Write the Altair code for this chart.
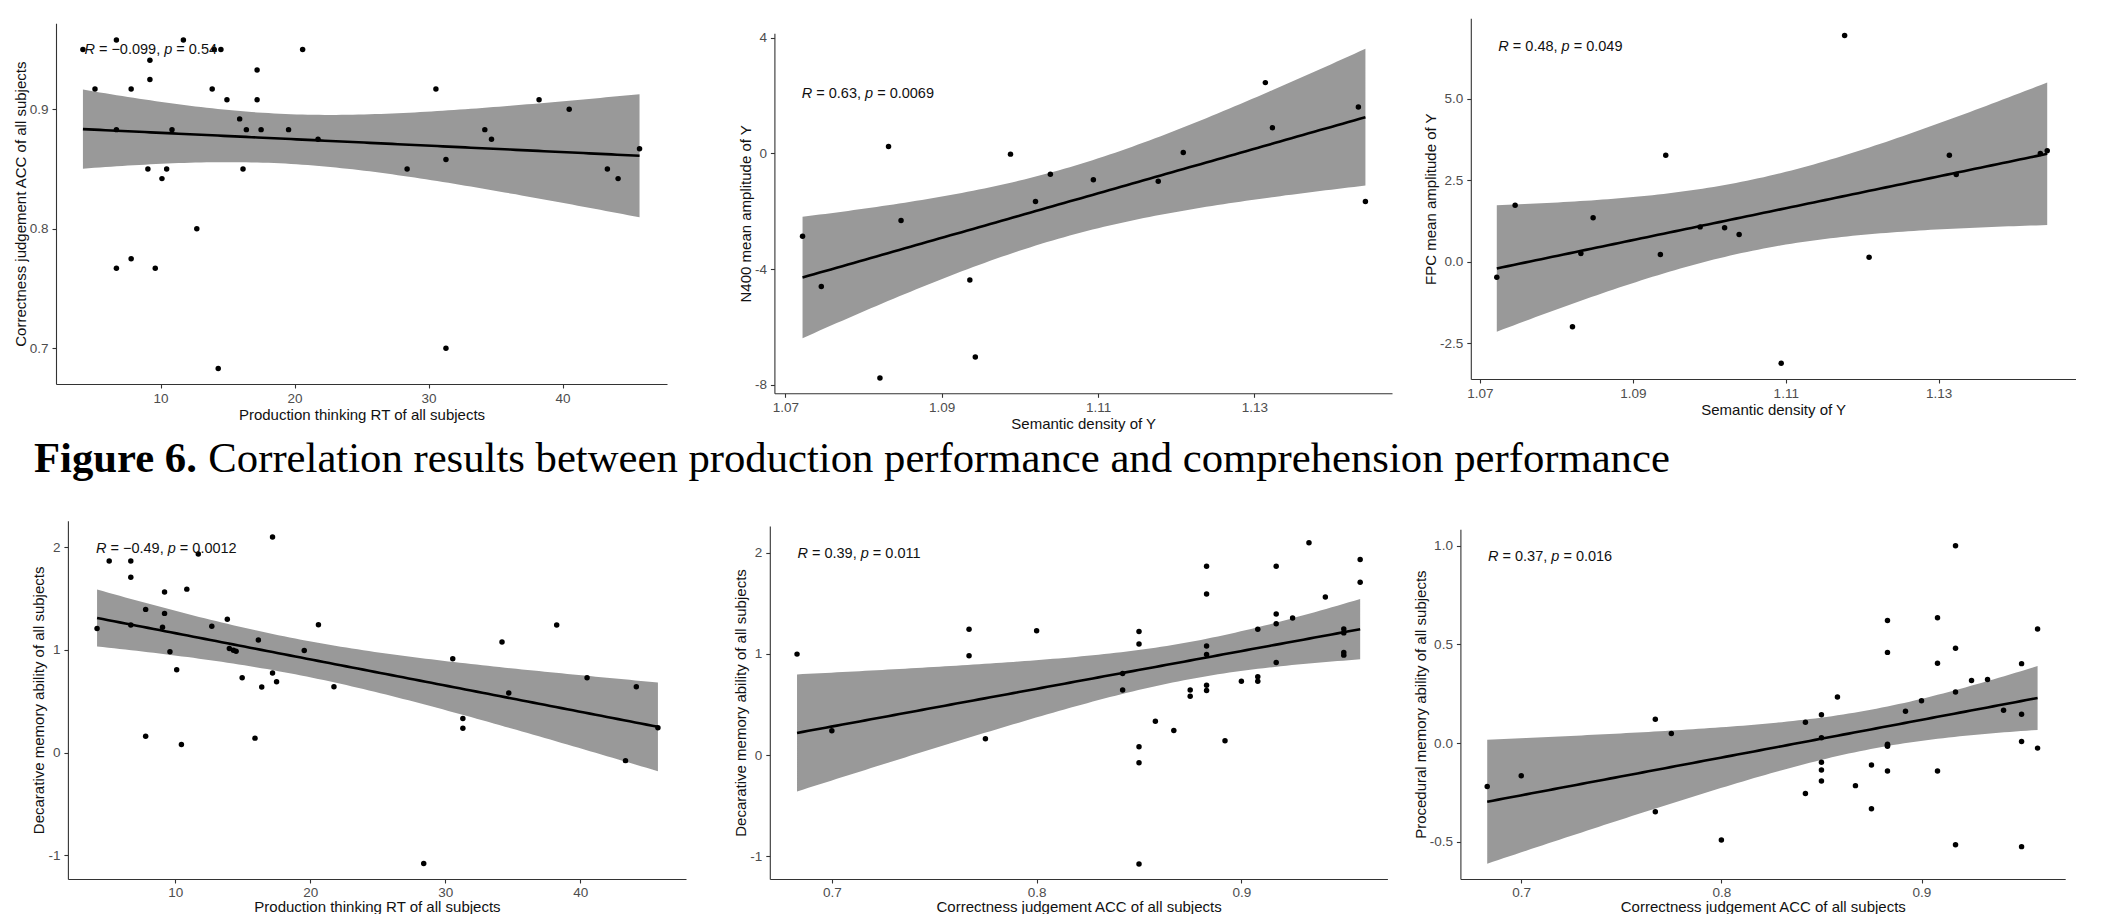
import altair as alt
import numpy as np
import pandas as pd

# ---------------- data ----------------
# 41 subjects: production thinking RT, correctness-judgement ACC,
# declarative memory ability, procedural memory ability
RT = [4.2, 6.7, 11.7, 14.0, 14.5, 20.6, 9.2, 17.2, 9.2, 5.1, 7.8, 13.85, 30.55, 14.95,
      17.2, 38.25, 40.5, 15.9, 6.7, 10.85, 16.4, 17.5, 19.55, 34.2, 21.75, 34.7, 45.75,
      31.3, 9.05, 10.45, 16.15, 28.4, 43.35, 10.1, 44.15, 12.7, 7.8, 6.7, 9.6, 31.3, 14.3]
ACC = [0.950, 0.958, 0.958, 0.950, 0.950, 0.950, 0.941, 0.933, 0.925, 0.917, 0.917, 0.917,
       0.917, 0.908, 0.908, 0.908, 0.900, 0.892, 0.883, 0.883, 0.883, 0.883, 0.883, 0.883,
       0.875, 0.875, 0.867, 0.858, 0.850, 0.850, 0.850, 0.850, 0.850, 0.842, 0.842, 0.800,
       0.775, 0.767, 0.767, 0.700, 0.683]
DECL = [1.208, 1.708, 1.934, 1.014, 0.988, 1.246, 1.563, 2.099, 1.356, 1.866, 1.395, 1.298,
        0.914, 0.730, 0.775, 1.243, 0.730, 0.142, 1.866, 1.592, 0.639, 0.691, 0.995, 1.078,
        0.643, 0.581, 0.242, 0.333, 1.221, 0.081, 1.098, -1.078, -0.077, 0.807, 0.643, 1.230,
        0.161, 1.243, 0.982, 0.239, 0.998]
PROC = [0.403, 0.578, -0.025, 0.147, 0.008, -0.524, 0.167, 0.323, 0.318, 1.000, 0.481, 0.259,
        -0.514, 0.635, 0.405, -0.141, 0.215, 0.162, 0.621, 0.460, -0.005, -0.015, -0.141, -0.010,
        -0.110, -0.332, -0.215, 0.234, 0.144, 0.028, -0.097, -0.136, -0.192, 0.106, -0.255, -0.490,
        0.049, 0.121, -0.347, -0.165, -0.219]

# 17 items: semantic density of Y, N400 and FPC mean amplitudes
SD = [1.0722, 1.0746, 1.0821, 1.0832, 1.0848, 1.0936, 1.0943, 1.0988, 1.1020, 1.1039,
      1.1094, 1.1177, 1.1209, 1.1314, 1.1323, 1.1433, 1.1442]
N400 = [-2.864, -4.596, -7.76, 0.242, -2.32, -4.376, -7.03, -0.023, -1.663, -0.716,
        -0.912, -0.958, 0.035, 2.448, 0.889, 1.605, -1.663]
FPC = [-0.471, 1.740, -1.995, 0.256, 1.351, 0.225, 3.275, 1.074, 1.044, 0.839,
       -3.111, 6.948, 0.143, 3.275, 2.681, 3.326, 3.408]

# correlation labels (R, p) and their anchor (data coords, left / middle)
R_LABELS = ["\u22120.099", "0.63", "0.48", "\u22120.49", "0.39", "0.37"]
P_LABELS = ["0.54", "0.0069", "0.049", "0.0012", "0.011", "0.016"]
LABEL_X = [4.31, 1.0721, 1.0724, 4.12, 0.6832, 0.6834]
LABEL_Y = [0.9496, 2.05, 6.6, 1.98, 1.99, 0.944]

X_TITLES = ["Production thinking RT of all subjects", "Semantic density of Y", "Semantic density of Y",
            "Production thinking RT of all subjects", "Correctness judgement ACC of all subjects",
            "Correctness judgement ACC of all subjects"]
Y_TITLES = ["Correctness judgement ACC of all subjects", "N400 mean amplitude of Y",
            "FPC mean amplitude of Y", "Decarative memory ability of all subjects",
            "Decarative memory ability of all subjects", "Procedural  memory ability of all subjects"]
X_TICKS = [[10, 20, 30, 40], [1.07, 1.09, 1.11, 1.13], [1.07, 1.09, 1.11, 1.13],
           [10, 20, 30, 40], [0.7, 0.8, 0.9], [0.7, 0.8, 0.9]]
Y_TICKS = [[0.7, 0.8, 0.9], [-8, -4, 0, 4], [-2.5, 0.0, 2.5, 5.0],
           [-1, 0, 1, 2], [-1, 0, 1, 2], [-0.5, 0.0, 0.5, 1.0]]
X_FMT = ["d", ".2f", ".2f", "d", ".1f", ".1f"]
Y_FMT = [".1f", "d", ".1f", "d", "d", ".1f"]
X_DOM = [[2.19, 47.80], [1.0686, 1.1476], [1.0688, 1.1479], [2.04, 47.83], [0.6697, 0.9713], [0.6696, 0.9718]]
Y_DOM = [[0.6701, 0.972], [-8.287, 4.152], [-3.596, 7.477], [-1.229, 2.258], [-1.226, 2.265], [-0.688, 1.0835]]

CAPTION_BOLD = "Figure 6."
CAPTION_TEXT = "Correlation results between production performance and comprehension performance"

# ---------------- layout ----------------
W, H = 2100, 906
# pixel extents of each panel: (left, right), (bottom, top)
X_RANGE = [(48.0, 659.0), (766.4, 1384.0), (1462.8, 2067.5), (59.9, 678.0), (761.8, 1379.4), (1452.4, 2057.2)]
Y_RANGE = [(376.0, 15.3), (385.3, 25.3), (371.0, 10.3), (871.0, 512.7), (871.0, 518.0), (871.0, 521.3)]
BOTTOM_ROW = [False, False, False, True, True, True]

SANS = "Liberation Sans, Arial, sans-serif"
SERIF = "Liberation Serif, Times New Roman, serif"
LAB_SIZE = 14.5
T95 = {39: 2.0227, 15: 2.1314}

ARIAL = {"R": 722, "p": 556, " ": 278, "=": 584, "\u2212": 584, "-": 333, ",": 278, ".": 278}
for d in "0123456789":
    ARIAL[d] = 556
TIMES_B = {"F": 611, "i": 278, "g": 500, "u": 556, "r": 444, "e": 444, " ": 250, "6": 500, ".": 250}


def text_w(s, table, size):
    return sum(table.get(c, 556) for c in s) * size / 1000.0


def fit_frame(x, y):
    x = np.asarray(x, float)
    y = np.asarray(y, float)
    n = len(x)
    b1, b0 = np.polyfit(x, y, 1)
    res = y - (b0 + b1 * x)
    s = np.sqrt((res ** 2).sum() / (n - 2))
    xbar = x.mean()
    sxx = ((x - xbar) ** 2).sum()
    g = np.linspace(x.min(), x.max(), 100)
    fit = b0 + b1 * g
    se = s * np.sqrt(1.0 / n + (g - xbar) ** 2 / sxx)
    t = T95[n - 2]
    return pd.DataFrame({"x": g, "y": fit, "lo": fit - t * se, "hi": fit + t * se})


PAIRS = [(RT, ACC), (SD, N400), (SD, FPC), (RT, DECL), (ACC, DECL), (ACC, PROC)]


def panel(i):
    xs, ys = PAIRS[i]
    pts = pd.DataFrame({"x": xs, "y": ys})
    fit = fit_frame(xs, ys)
    x0, x1 = X_RANGE[i]
    yb, yt = Y_RANGE[i]
    common = dict(
        grid=False, domainColor="#333333", domainWidth=1.1, tickColor="#333333", tickWidth=1.1,
        tickSize=4, labelFont=SANS, labelFontSize=13.5, labelColor="#4d4d4d",
        titleFont=SANS, titleFontSize=15, titleColor="#111111", titleFontWeight="normal",
        labelFlush=False, labelExpr="replace(datum.label, '\u2212', '-')",
    )
    bottom = BOTTOM_ROW[i]
    xaxis = alt.Axis(orient="bottom", offset=yb - H, values=X_TICKS[i], format=X_FMT[i],
                     title=X_TITLES[i], labelPadding=2 if bottom else 3,
                     titlePadding=1 if bottom else 3, **common)
    yaxis = alt.Axis(orient="left", offset=-x0, values=Y_TICKS[i], format=Y_FMT[i],
                     title=Y_TITLES[i], labelPadding=4, titlePadding=1, **common)
    xs_ = alt.Scale(domain=X_DOM[i], range=[x0, x1], nice=False, zero=False)
    ys_ = alt.Scale(domain=Y_DOM[i], range=[yb, yt], nice=False, zero=False)
    X = alt.X("x:Q", scale=xs_, axis=xaxis)
    Y = alt.Y("y:Q", scale=ys_, axis=yaxis)

    band = alt.Chart(fit).mark_area(color="#999999", opacity=1).encode(
        x=X, y=alt.Y("lo:Q", scale=ys_, axis=yaxis), y2="hi:Q")
    line = alt.Chart(fit).mark_line(color="black", strokeWidth=2.6).encode(x=X, y=Y)
    dots = alt.Chart(pts).mark_circle(color="black", opacity=1, size=30).encode(x=X, y=Y)

    lab = pd.DataFrame({"x": [LABEL_X[i]], "y": [LABEL_Y[i]]})
    r_str = R_LABELS[i]
    p_str = P_LABELS[i]
    segs = [
        ("R", "italic", 0.0),
        ("= " + r_str + ",", "normal", text_w("R ", ARIAL, LAB_SIZE)),
        ("p", "italic", text_w("R = " + r_str + ", ", ARIAL, LAB_SIZE)),
        ("= " + p_str, "normal", text_w("R = " + r_str + ", p ", ARIAL, LAB_SIZE)),
    ]
    texts = []
    for s, style, dx in segs:
        texts.append(
            alt.Chart(lab).mark_text(text=s, font=SANS, fontSize=LAB_SIZE, fontStyle=style,
                                     align="left", baseline="middle", dx=dx, color="#111111")
            .encode(x=X, y=Y)
        )
    return alt.layer(band, line, dots, *texts)


panels = [panel(i) for i in range(6)]

CAP_SIZE = 42.7
cap_x = 26
cap_y = 464
bold_w = text_w(CAPTION_BOLD + " ", TIMES_B, CAP_SIZE)
cap_df = pd.DataFrame({"b": [CAPTION_BOLD], "t": [CAPTION_TEXT]})
cap_bold = alt.Chart(cap_df).mark_text(font=SERIF, fontSize=CAP_SIZE, fontWeight="bold", align="left",
                                       baseline="alphabetic", color="black").encode(
    text="b:N", x=alt.value(cap_x), y=alt.value(cap_y))
cap_reg = alt.Chart(cap_df).mark_text(font=SERIF, fontSize=CAP_SIZE, fontWeight="normal", align="left",
                                      baseline="alphabetic", color="black").encode(
    text="t:N", x=alt.value(cap_x + bold_w), y=alt.value(cap_y))

chart = alt.layer(*panels, cap_bold, cap_reg).resolve_scale(
    x="independent", y="independent"
).properties(
    width=W, height=H, autosize=alt.AutoSizeParams(type="none"), padding=0
).configure_view(stroke=None).configure_axis(grid=False)

chart.save("out.html", embed_options={"renderer": "svg", "actions": False})
